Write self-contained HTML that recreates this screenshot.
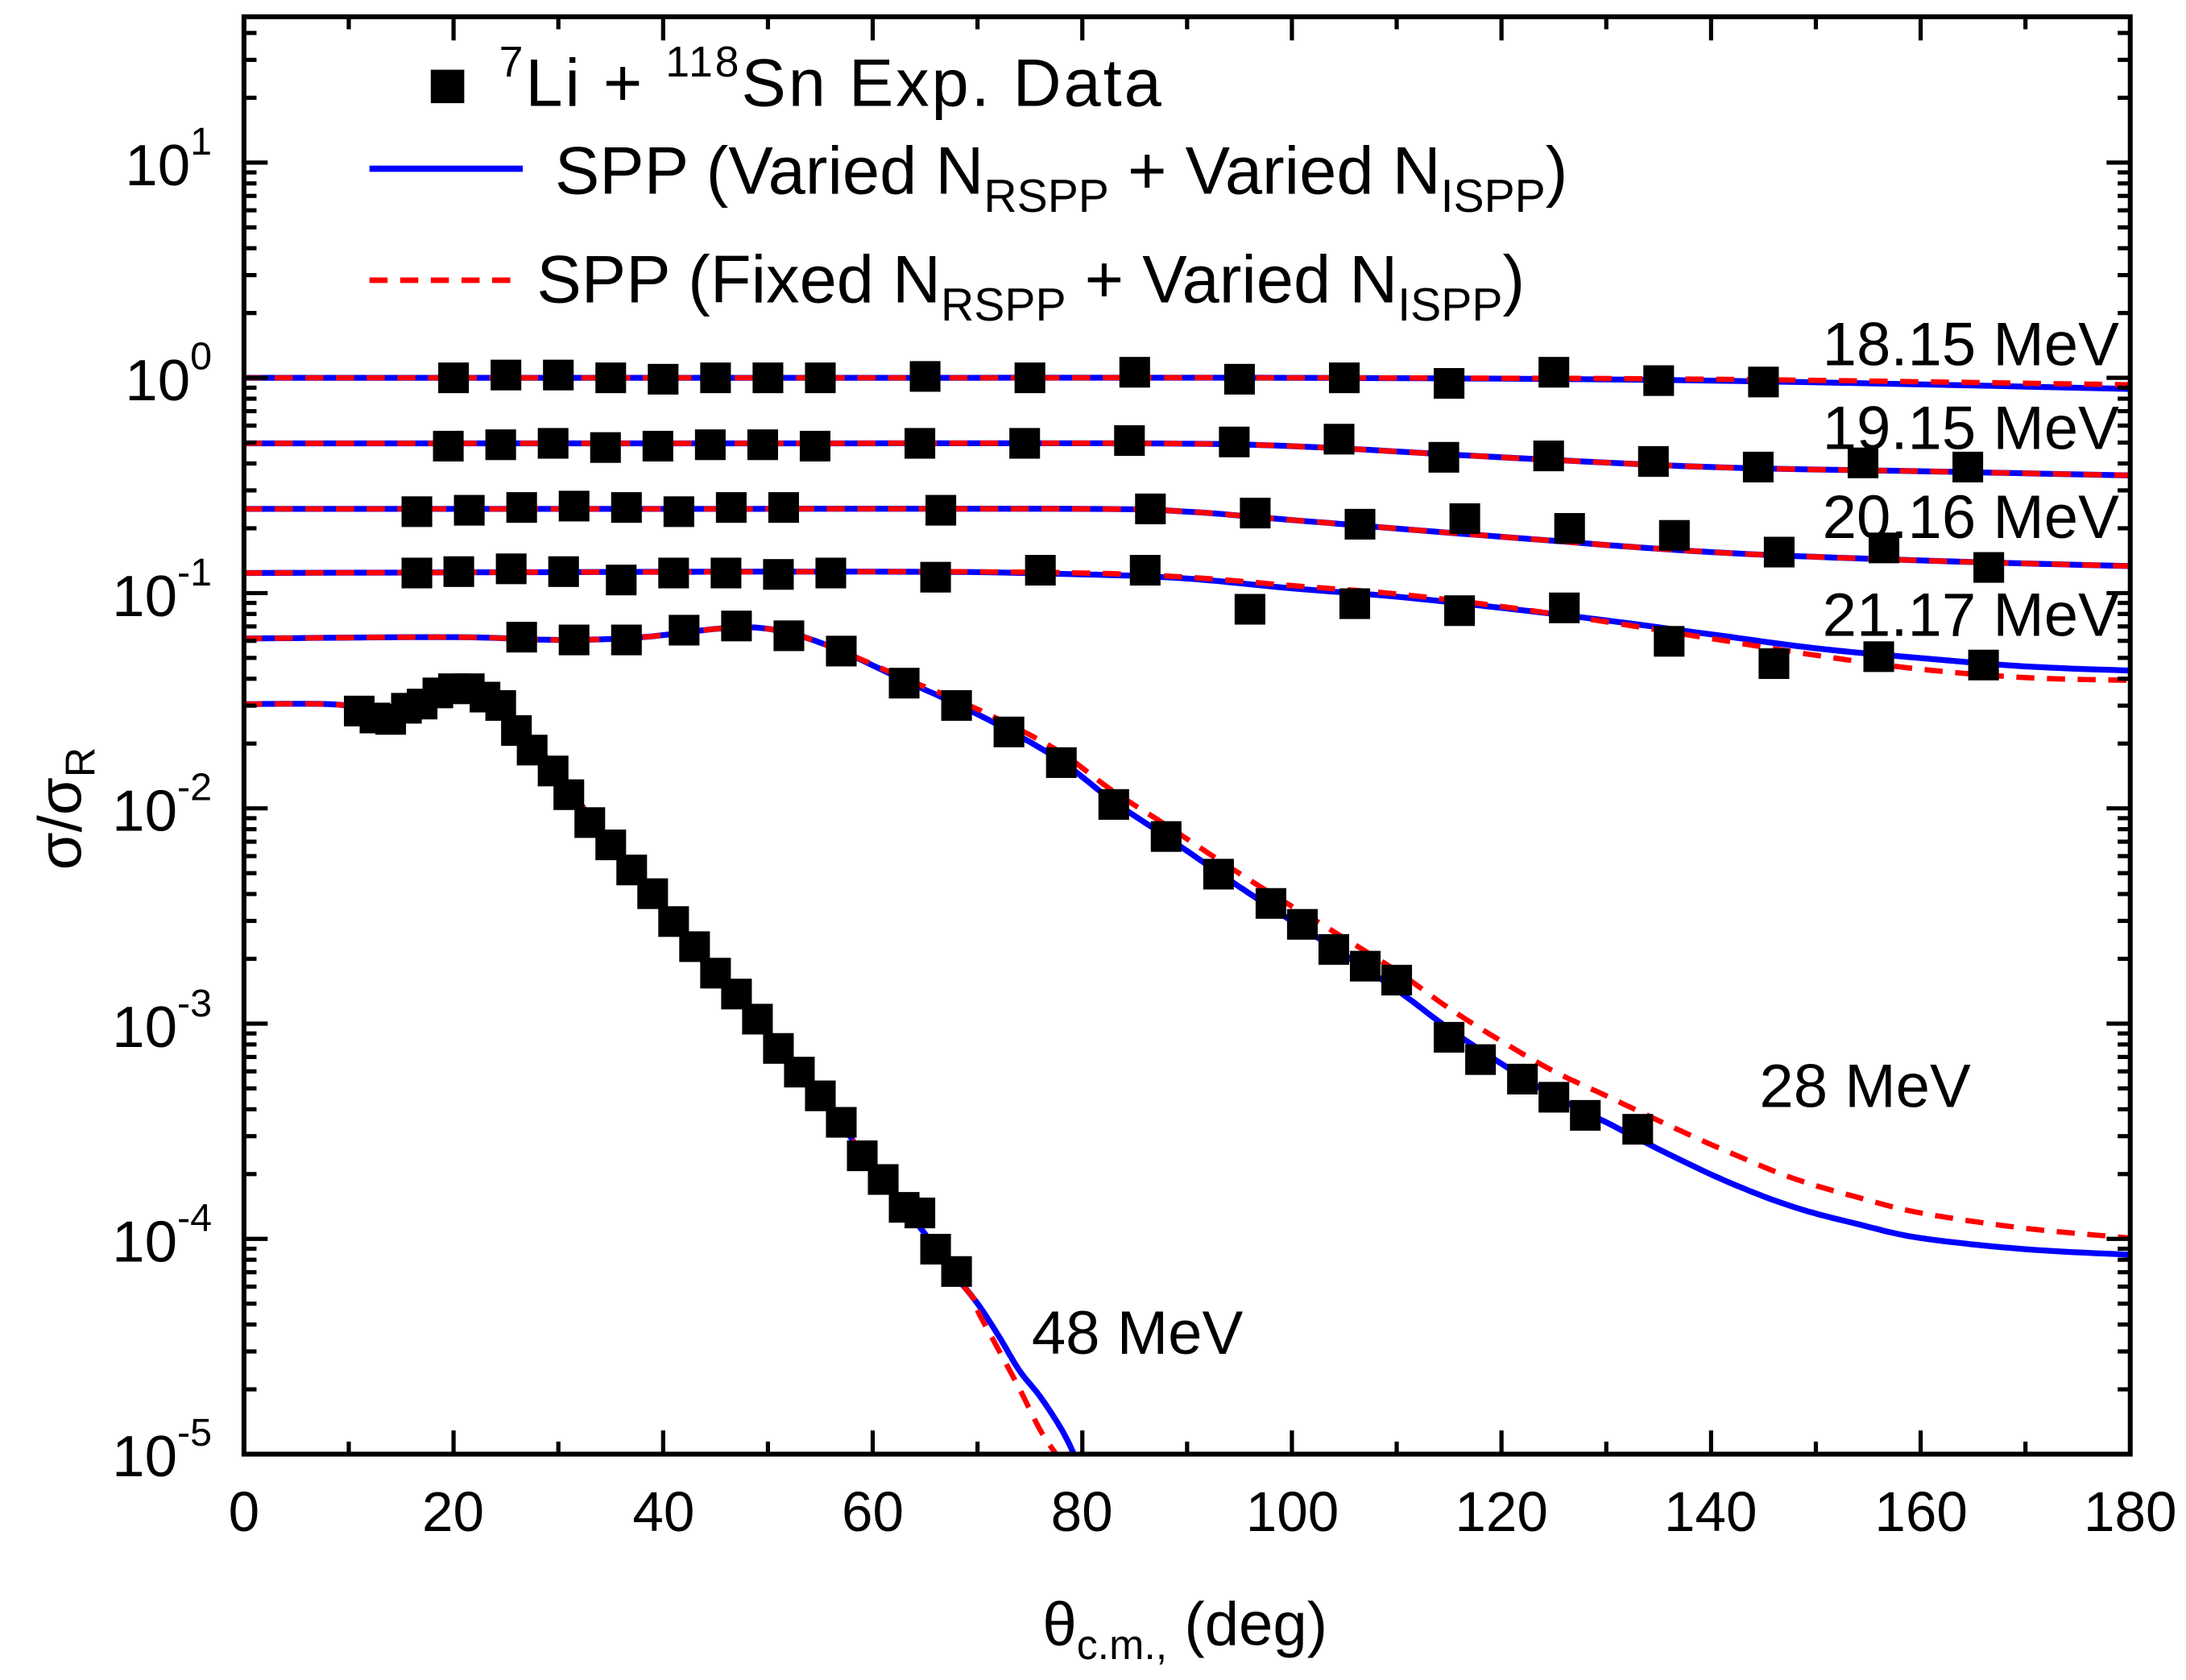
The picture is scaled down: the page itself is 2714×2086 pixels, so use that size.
<!DOCTYPE html>
<html><head><meta charset="utf-8"><style>
html,body{margin:0;padding:0;background:#fff;}
svg{display:block;}
text{font-family:"Liberation Sans",Arial,sans-serif;fill:#000;}
</style></head><body>
<svg id="s" width="2714" height="2086" viewBox="0 0 1568 1205" preserveAspectRatio="none" xmlns="http://www.w3.org/2000/svg">
<rect width="1568" height="1205" fill="#fff"/>
<g id="data"></g>
<g id="ticks" stroke="#000" stroke-width="3"></g>
<rect x="175" y="12" width="1353" height="1031" fill="none" stroke="#000" stroke-width="3.5"/>
<g font-size="42" text-anchor="end">
<text x="152" y="133">10<tspan dy="-22" font-size="28">1</tspan></text>
<text x="152" y="287">10<tspan dy="-22" font-size="28">0</tspan></text>
<text x="152" y="442">10<tspan dy="-22" font-size="28">-1</tspan></text>
<text x="152" y="596">10<tspan dy="-22" font-size="28">-2</tspan></text>
<text x="152" y="751">10<tspan dy="-22" font-size="28">-3</tspan></text>
<text x="152" y="905">10<tspan dy="-22" font-size="28">-4</tspan></text>
<text x="152" y="1059">10<tspan dy="-22" font-size="28">-5</tspan></text>
</g>
<g font-size="40" text-anchor="middle">
<text x="175" y="1098">0</text><text x="325" y="1098">20</text><text x="476" y="1098">40</text>
<text x="626" y="1098">60</text><text x="776" y="1098">80</text><text x="927" y="1098">100</text>
<text x="1077" y="1098">120</text><text x="1227" y="1098">140</text><text x="1378" y="1098">160</text>
<text x="1528" y="1098">180</text>
</g>
<text x="850" y="1180" font-size="44" text-anchor="middle">θ<tspan font-size="30" dy="10">c.m.,</tspan><tspan dy="-10"> (deg)</tspan></text>
<text transform="translate(58,580) rotate(-90)" font-size="44" text-anchor="middle">σ/σ<tspan font-size="30" dy="10">R</tspan></text>
<rect x="309" y="50" width="24" height="24" fill="#000"/>
<text x="358" y="76" font-size="48" textLength="475"><tspan font-size="31" dy="-21">7</tspan><tspan dy="21">Li + </tspan><tspan font-size="31" dy="-21">118</tspan><tspan dy="21">Sn Exp. Data</tspan></text>
<line x1="265" y1="121" x2="375" y2="121" stroke="#0000ff" stroke-width="4.5"/>
<text x="398" y="139" font-size="48">SPP (Varied N<tspan font-size="33" dy="13">RSPP</tspan><tspan dy="-13"> + Varied N</tspan><tspan font-size="33" dy="13">ISPP</tspan><tspan dy="-13">)</tspan></text>
<line x1="265" y1="201" x2="375" y2="201" stroke="#ff0000" stroke-width="4" stroke-dasharray="13,9"/>
<text x="385" y="217" font-size="48">SPP (Fixed N<tspan font-size="33" dy="13">RSPP</tspan><tspan dy="-13"> + Varied N</tspan><tspan font-size="33" dy="13">ISPP</tspan><tspan dy="-13">)</tspan></text>
<g font-size="44" text-anchor="end">
<text x="1520" y="262">18.15 MeV</text>
<text x="1520" y="322">19.15 MeV</text>
<text x="1520" y="386">20.16 MeV</text>
<text x="1520" y="456">21.17 MeV</text>
</g>
<text x="1262" y="794" font-size="44">28 MeV</text>
<text x="740" y="971" font-size="44">48 MeV</text>
</svg>
<script>
var NS="http://www.w3.org/2000/svg";
function X(t){return 175+t*7.5167;}
function Yv(v){return 271-154.4*Math.log10(v);}
var T=document.getElementById("ticks");
function ln(x1,y1,x2,y2){var l=document.createElementNS(NS,"line");l.setAttribute("x1",x1);l.setAttribute("y1",y1);l.setAttribute("x2",x2);l.setAttribute("y2",y2);T.appendChild(l);}
for(var t=0;t<=180;t+=10){var L=(t%20==0)?17:9;ln(X(t),1043,X(t),1043-L);ln(X(t),12,X(t),12+L);}
for(var e=-5;e<=1;e++){for(var m=1;m<10;m++){var y=Yv(m*Math.pow(10,e));if(y<12)continue;var L=m==1?17:9;ln(175,y,175+L,y);ln(1528,y,1528-L,y);}}
var D=document.getElementById("data");
function path(pts,col,dash){var d="";for(var i=0;i<pts.length;i++){d+=(i?"L":"M")+X(pts[i][0]).toFixed(1)+","+pts[i][1].toFixed(1);}
var p=document.createElementNS(NS,"path");p.setAttribute("d",d);p.setAttribute("fill","none");p.setAttribute("stroke",col);p.setAttribute("stroke-width",dash?3.8:4.2);p.setAttribute("stroke-linejoin","round");if(dash)p.setAttribute("stroke-dasharray","13,9");D.appendChild(p);}
function curve(k){var o=[];for(var i=0;i<k.length-1;i++){var p0=k[Math.max(0,i-1)],p1=k[i],p2=k[i+1],p3=k[Math.min(k.length-1,i+2)];
for(var s=0;s<1;s+=0.1){var s2=s*s,s3=s2*s;function cr(a,b,c,d){return 0.5*((2*b)+(-a+c)*s+(2*a-5*b+4*c-d)*s2+(-a+3*b-3*c+d)*s3);}
o.push([cr(p0[0],p1[0],p2[0],p3[0]),cr(p0[1],p1[1],p2[1],p3[1])]);}}o.push(k[k.length-1]);return o;}
function sq(t,y){var r=document.createElementNS(NS,"rect");r.setAttribute("x",X(t)-11);r.setAttribute("y",y-11);r.setAttribute("width",22);r.setAttribute("height",22);r.setAttribute("fill","#000");D.appendChild(r);}
function off(k,f){return k.map(function(p){return [p[0],p[1]+f(p[0])];});}
var k1=[[0,271],[60,271],[100,271],[140,273],[180,279]];
var k1r=[[0,271],[60,271],[100,271],[140,272],[180,276]];
var k2=[[0,318],[50,318],[85,318],[100,320],[120,328],[140,335],[160,338],[180,341]];
var k3=[[0,365],[40,365],[80,365],[90,367],[100,373],[120,385],[140,396],[160,402],[180,406]];
var k4=[[0,411],[60,410],[80,412],[90,415],[100,422],[110,428],[120,436],[130,445],[140,455],[150,465],[160,472],[170,478],[180,481]];
var k4r=[[0,411],[60,410],[80,411],[90,414],[100,420],[110,426],[120,435],[130,446],[140,458],[150,470],[160,480],[170,486],[180,488]];
var k5=[[0,458],[20,457],[30,459],[38,457],[47,450],[52,454],[57,467],[63,488],[68,505],[73,524],[78,546],[83,575],[88,600],[93,626],[98,651],[104,680],[110,710],[115,738],[120,763],[125,786],[130,805],[136,828],[142,849],[148,866],[154,878],[160,888],[170,896],[180,900]];
var k5r=off(k5,function(t){if(t<58)return 0;if(t<80)return -(t-58)*0.3;if(t<100)return -6.6-(t-80)*0.2;if(t<140)return -10.6-(t-100)*0.28;if(t<160)return -22+(t-140)*0.2;return -18+(t-160)*0.3;});
var k6=[[0,505],[8,505],[11,508],[13.5,513],[16,506],[20,494],[22,494],[24.5,506],[26,520],[28,537],[30,553],[33,586],[35,604],[37,622],[39,640],[41,659],[43,677],[45,696],[47,713],[49,731],[51,751],[53,769],[55,787],[57,806],[59,828],[61,847],[63,866],[65.5,890],[68,916],[70,935],[72,958],[74,983],[76,1002],[78,1025],[79.2,1043]];
var k6r=k6.slice(0,30).concat([[70,940],[72,968],[74,996],[76,1026],[77.5,1043]]);
[[k1,k1r],[k2,k2],[k3,k3],[k4,k4r],[k5,k5r]].forEach(function(p){path(curve(p[0]),"#0000ff",false);path(curve(p[1]),"#ff0000",true);});
path(curve(k6),"#0000ff",false);path(curve(k6r),"#ff0000",true);
[[20,271],[25,269],[30,269],[35,271],[40,272],[45,271],[50,271],[55,271],[65,270],[75,271],[85,267],[95,272],[105,271],[115,275],[125,267],[135,273],[145,274]].forEach(function(p){sq(p[0],p[1]);});
[[19.5,320],[24.5,319],[29.5,318],[34.5,321],[39.5,320],[44.5,319],[49.5,319],[54.5,320],[64.5,318],[74.5,318],[84.5,316],[94.5,317],[104.5,315],[114.5,328],[124.5,327],[134.5,331],[144.5,335],[154.5,332],[164.5,335]].forEach(function(p){sq(p[0],p[1]);});
[[16.5,367],[21.5,366],[26.5,364],[31.5,363],[36.5,364],[41.5,367],[46.5,364],[51.5,364],[66.5,366],[86.5,365],[96.5,368],[106.5,376],[116.5,372],[126.5,379],[136.5,384],[146.5,396],[156.5,393],[166.5,407]].forEach(function(p){sq(p[0],p[1]);});
[[16.5,411],[20.5,410],[25.5,408],[30.5,410],[36,416],[41,411],[46,411],[51,412],[56,411],[66,414],[76,409],[86,409],[96,437],[106,433],[116,438],[126,436],[136,460],[146,476],[156,471],[166,477]].forEach(function(p){sq(p[0],p[1]);});
[[26.5,457],[31.5,459],[36.5,459],[42,452],[47,449],[52,456],[57,467],[63,490],[68,506],[73,525],[78,547],[83,577],[88,600],[93,627],[98,648],[101,663],[104,681],[107,693],[110,703],[115,744],[118,760],[122,774],[125,787],[128,800],[133,810]].forEach(function(p){sq(p[0],p[1]);});
[[11,510],[12.5,515],[14,516],[15.5,508],[17,505],[18.5,497],[20,494],[21.5,494],[23,500],[24.5,506],[26,524],[27.5,538],[29.5,553],[31,570],[33,590],[35,606],[37,624],[39,641],[41,661],[43,679],[45,698],[47,713],[49,731],[51,752],[53,769],[55,786],[57,805],[59,829],[61,846],[63,866],[64.5,870],[66,896],[68,912]].forEach(function(p){sq(p[0],p[1]);});
</script>
</body></html>
